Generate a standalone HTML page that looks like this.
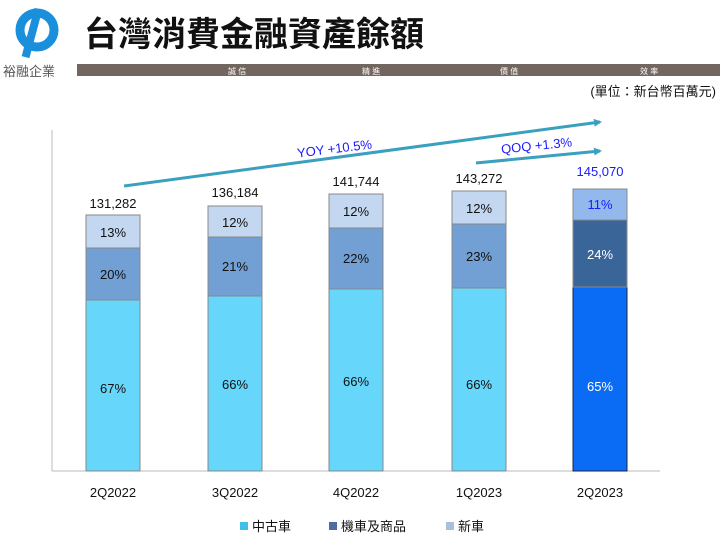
<!DOCTYPE html><html><head><meta charset="utf-8"><style>body{margin:0;width:720px;height:540px;overflow:hidden;background:#fff}svg{display:block}text{font-family:"Liberation Sans","Noto Sans CJK TC",sans-serif}</style></head><body>
<svg width="720" height="540" viewBox="0 0 720 540">
<defs><marker id="ar" markerWidth="8" markerHeight="8" refX="6" refY="4" orient="auto" markerUnits="userSpaceOnUse"><path d="M0,0L8,4L0,8z" fill="#3aa0bf"/></marker></defs>
<circle cx="37" cy="30" r="17" fill="none" stroke="#1a8fdc" stroke-width="9"/>
<rect x="28" y="8" width="8" height="50" fill="#1a8fdc" transform="rotate(15 32 33)"/>
<text x="3" y="76" font-size="13" fill="#555">裕融企業</text>
<text x="84" y="46" font-size="34" font-weight="bold" fill="#111">台灣消費金融資產餘額</text>
<rect x="77" y="64" width="643" height="12" fill="#736660"/>
<g font-size="8" fill="#fff"><text x="228" y="74">誠 信</text><text x="362" y="74">精 進</text><text x="500" y="74">價 值</text><text x="640" y="74">效 率</text></g>
<text x="716" y="96" font-size="13" text-anchor="end" fill="#111">(單位：新台幣百萬元)</text>
<line x1="52" y1="130" x2="52" y2="471" stroke="#bbb"/><line x1="52" y1="471" x2="660" y2="471" stroke="#bbb"/>
<g stroke="#888" stroke-width="1">
<rect x="86" y="300" width="54" height="171" fill="#66d6fb"/><rect x="86" y="248" width="54" height="52" fill="#729fd4"/><rect x="86" y="215" width="54" height="33" fill="#c4d7f0"/>
<rect x="208" y="296" width="54" height="175" fill="#66d6fb"/><rect x="208" y="237" width="54" height="59" fill="#729fd4"/><rect x="208" y="206" width="54" height="31" fill="#c4d7f0"/>
<rect x="329" y="289" width="54" height="182" fill="#66d6fb"/><rect x="329" y="228" width="54" height="61" fill="#729fd4"/><rect x="329" y="194" width="54" height="34" fill="#c4d7f0"/>
<rect x="452" y="288" width="54" height="183" fill="#66d6fb"/><rect x="452" y="224" width="54" height="64" fill="#729fd4"/><rect x="452" y="191" width="54" height="33" fill="#c4d7f0"/>
<rect x="573" y="287" width="54" height="184" fill="#0a6cf5" stroke="#224"/><rect x="573" y="220" width="54" height="67" fill="#3a6598"/><rect x="573" y="189" width="54" height="31" fill="#93b9ec"/>
</g>
<g font-size="13" text-anchor="middle" fill="#111">
<text x="113" y="237">13%</text><text x="113" y="279">20%</text><text x="113" y="393">67%</text><text x="113" y="208">131,282</text>
<text x="235" y="227">12%</text><text x="235" y="271">21%</text><text x="235" y="389">66%</text><text x="235" y="197">136,184</text>
<text x="356" y="216">12%</text><text x="356" y="263">22%</text><text x="356" y="386">66%</text><text x="356" y="186">141,744</text>
<text x="479" y="213">12%</text><text x="479" y="261">23%</text><text x="479" y="389">66%</text><text x="479" y="183">143,272</text>
<text x="600" y="209" fill="#1a1aff">11%</text><text x="600" y="259" fill="#fff">24%</text><text x="600" y="391" fill="#fff">65%</text><text x="600" y="176" fill="#1a1aff">145,070</text>
<text x="113" y="497">2Q2022</text><text x="235" y="497">3Q2022</text><text x="356" y="497">4Q2022</text><text x="479" y="497">1Q2023</text><text x="600" y="497">2Q2023</text>
</g>
<line x1="124" y1="186" x2="600" y2="122" stroke="#3aa0bf" stroke-width="3" marker-end="url(#ar)"/>
<line x1="476" y1="163" x2="600" y2="151" stroke="#3aa0bf" stroke-width="3" marker-end="url(#ar)"/>
<text x="335" y="153" font-size="13" fill="#1a1aff" text-anchor="middle" transform="rotate(-7 335 153)">YOY +10.5%</text>
<text x="537" y="150" font-size="13" fill="#1a1aff" text-anchor="middle" transform="rotate(-6 537 150)">QOQ +1.3%</text>
<g font-size="13" fill="#111">
<rect x="240" y="522" width="8" height="8" fill="#3fc0ea"/><text x="252" y="531">中古車</text>
<rect x="329" y="522" width="8" height="8" fill="#4a6f9f"/><text x="341" y="531">機車及商品</text>
<rect x="446" y="522" width="8" height="8" fill="#a9bfdc"/><text x="458" y="531">新車</text>
</g>
</svg></body></html>
